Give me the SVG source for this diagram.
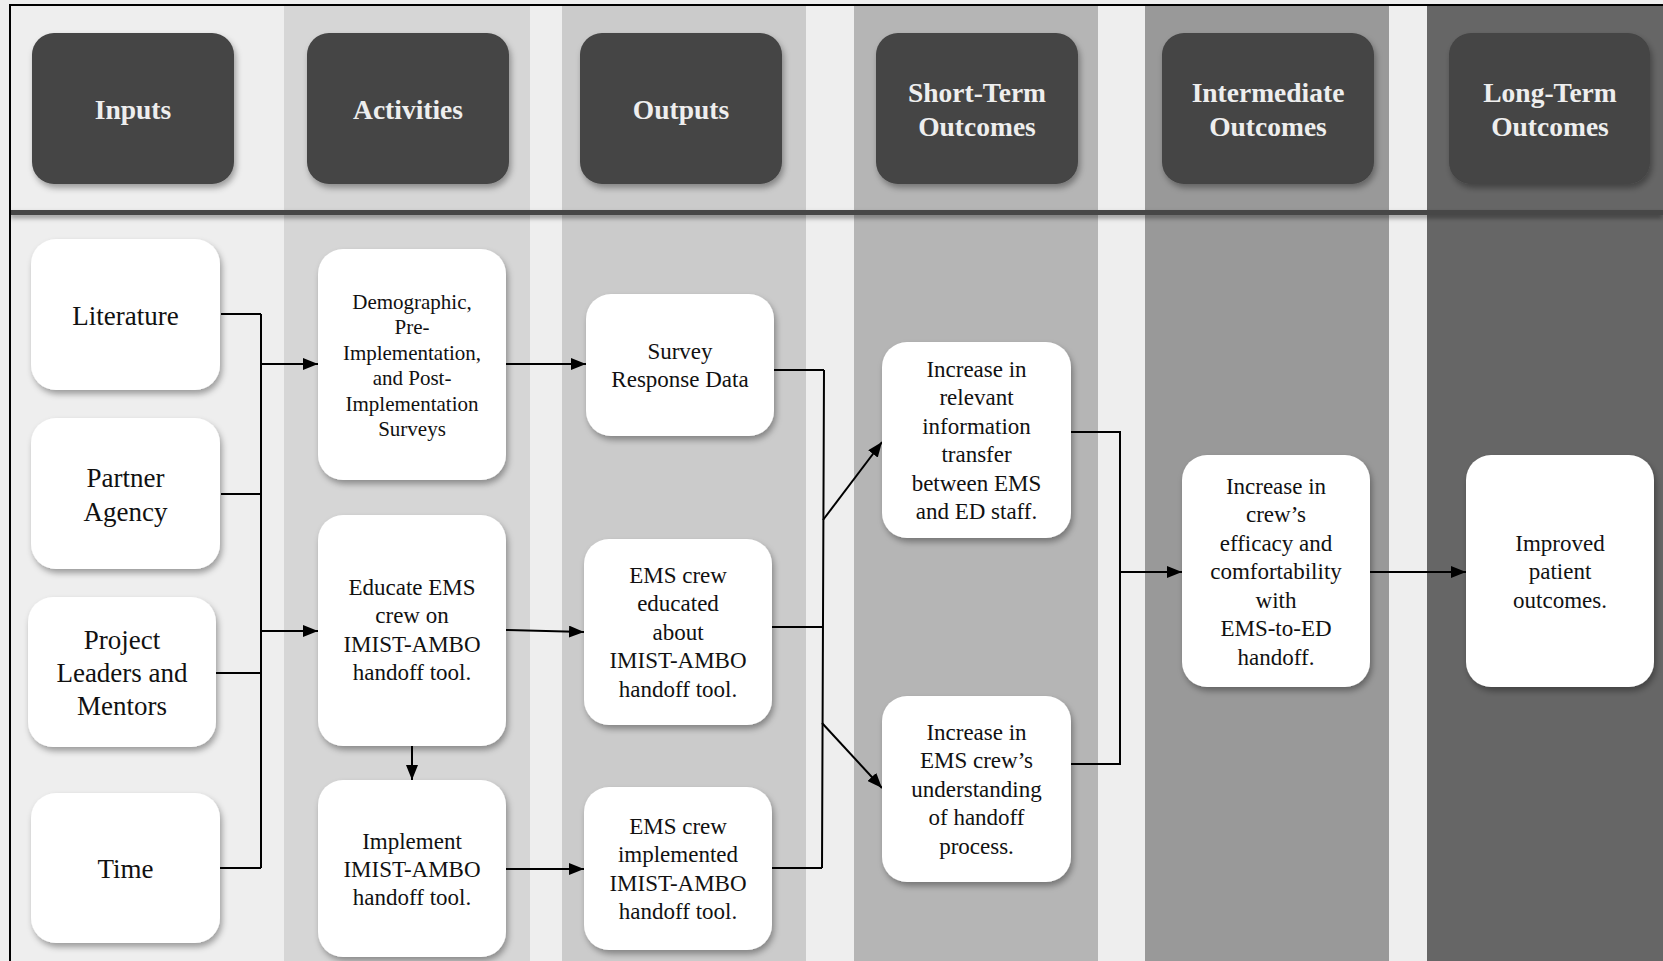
<svg xmlns="http://www.w3.org/2000/svg" width="1663" height="961" viewBox="0 0 1663 961">
<defs>
<filter id="sh" x="-20%" y="-20%" width="140%" height="140%"><feDropShadow dx="2" dy="4" stdDeviation="3" flood-color="#000" flood-opacity="0.35"/></filter>
<filter id="lsh" x="0" y="-200%" width="100%" height="500%"><feDropShadow dx="0" dy="3" stdDeviation="2.5" flood-color="#000" flood-opacity="0.4"/></filter>
<marker id="ah" markerUnits="userSpaceOnUse" markerWidth="15" markerHeight="12" refX="15" refY="6" orient="auto"><path d="M0,0 L15,6 L0,12 z" fill="#000"/></marker>
<style>
.hd{fill:#444444;filter:url(#sh)}
.ht{font-family:"Liberation Serif","Times New Roman",serif;font-weight:bold;font-size:27.5px;fill:#eeeeee;text-anchor:middle}
.nd{fill:#ffffff;filter:url(#sh)}
.t{font-family:"Liberation Serif","Times New Roman",serif;font-size:23px;fill:#111;text-anchor:middle}
.t27{font-size:27px}
.t21{font-size:21px}
.c{fill:none;stroke:#000;stroke-width:2}
.a{fill:none;stroke:#000;stroke-width:2;marker-end:url(#ah)}
</style>
</defs>
<g id="background">
<rect x="0" y="0" width="1663" height="961" fill="#eeeeee"/>
<rect x="284" y="6" width="246" height="955" fill="#d6d6d6"/>
<rect x="562" y="6" width="244" height="955" fill="#cbcbcb"/>
<rect x="854" y="6" width="244" height="955" fill="#b5b5b5"/>
<rect x="1145" y="6" width="244" height="955" fill="#999999"/>
<rect x="1427" y="6" width="236" height="955" fill="#666666"/>
<rect x="10" y="210" width="1653" height="5" fill="#474747" filter="url(#lsh)"/>
<path d="M10,961 L10,5 L1663,5" fill="none" stroke="#000" stroke-width="2"/>
</g>
<g id="h-inputs"><rect class="hd" x="32" y="33" width="202" height="151" rx="22"/><text class="ht" x="133" y="119">Inputs</text></g>
<g id="h-activities"><rect class="hd" x="307" y="33" width="202" height="151" rx="22"/><text class="ht" x="408" y="119">Activities</text></g>
<g id="h-outputs"><rect class="hd" x="580" y="33" width="202" height="151" rx="22"/><text class="ht" x="681" y="119">Outputs</text></g>
<g id="h-short"><rect class="hd" x="876" y="33" width="202" height="151" rx="22"/><text class="ht" x="977" y="101.5">Short-Term</text><text class="ht" x="977" y="135.5">Outcomes</text></g>
<g id="h-intermediate"><rect class="hd" x="1162" y="33" width="212" height="151" rx="22"/><text class="ht" x="1268" y="101.5">Intermediate</text><text class="ht" x="1268" y="135.5">Outcomes</text></g>
<g id="h-long"><rect class="hd" x="1449" y="33" width="201" height="151" rx="22"/><text class="ht" x="1550" y="101.5">Long-Term</text><text class="ht" x="1550" y="135.5">Outcomes</text></g>

<g id="connectors">
<path class="c" d="M221,314 H261 M221,494 H261 M216,673 H261 M220,868 H261 M261,314 V868"/>
<path class="a" d="M261,364 H318"/>
<path class="a" d="M261,631 H318"/>
<path class="a" d="M506,364 H586"/>
<path class="a" d="M506,630 L584,632"/>
<path class="a" d="M412,746 V780"/>
<path class="a" d="M506,869 H584"/>
<path class="c" d="M774,370 H824 M772,627 H823 M772,868 H822 M824,370 L822,868"/>
<path class="a" d="M823,520 L882,442"/>
<path class="a" d="M822,723 L882,788"/>
<path class="c" d="M1071,432 H1120 V764 H1071"/>
<path class="a" d="M1120,572 H1182"/>
<path class="a" d="M1370,572 H1466"/>
</g>

<g id="n-literature"><rect class="nd" x="31" y="239" width="189" height="151" rx="25"/><text class="t t27" x="125.5" y="325">Literature</text></g>
<g id="n-partner"><rect class="nd" x="31" y="418" width="189" height="151" rx="25"/><text class="t t27" x="125.5" y="487">Partner</text><text class="t t27" x="125.5" y="521">Agency</text></g>
<g id="n-project"><rect class="nd" x="28" y="597" width="188" height="150" rx="25"/><text class="t t27" x="122" y="649">Project</text><text class="t t27" x="122" y="682">Leaders and</text><text class="t t27" x="122" y="715">Mentors</text></g>
<g id="n-time"><rect class="nd" x="31" y="793" width="189" height="150" rx="25"/><text class="t t27" x="125.5" y="878">Time</text></g>

<g id="n-surveys"><rect class="nd" x="318" y="249" width="188" height="231" rx="25"/>
<text class="t t21" x="412" y="309">Demographic,</text><text class="t t21" x="412" y="334.4">Pre-</text><text class="t t21" x="412" y="359.8">Implementation,</text><text class="t t21" x="412" y="385.2">and Post-</text><text class="t t21" x="412" y="410.6">Implementation</text><text class="t t21" x="412" y="436">Surveys</text></g>
<g id="n-educate"><rect class="nd" x="318" y="515" width="188" height="231" rx="25"/>
<text class="t" x="412" y="594.5">Educate EMS</text><text class="t" x="412" y="623">crew on</text><text class="t" x="412" y="651.5">IMIST-AMBO</text><text class="t" x="412" y="680">handoff tool.</text></g>
<g id="n-implement"><rect class="nd" x="318" y="780" width="188" height="177" rx="25"/>
<text class="t" x="412" y="848.5">Implement</text><text class="t" x="412" y="876.5">IMIST-AMBO</text><text class="t" x="412" y="904.5">handoff tool.</text></g>

<g id="n-survey-data"><rect class="nd" x="586" y="294" width="188" height="142" rx="25"/>
<text class="t" x="680" y="358.5">Survey</text><text class="t" x="680" y="386.5">Response Data</text></g>
<g id="n-educated"><rect class="nd" x="584" y="539" width="188" height="186" rx="25"/>
<text class="t" x="678" y="582.5">EMS crew</text><text class="t" x="678" y="611">educated</text><text class="t" x="678" y="639.5">about</text><text class="t" x="678" y="668">IMIST-AMBO</text><text class="t" x="678" y="696.5">handoff tool.</text></g>
<g id="n-implemented"><rect class="nd" x="584" y="787" width="188" height="163" rx="25"/>
<text class="t" x="678" y="833.5">EMS crew</text><text class="t" x="678" y="862">implemented</text><text class="t" x="678" y="890.5">IMIST-AMBO</text><text class="t" x="678" y="919">handoff tool.</text></g>

<g id="n-st1"><rect class="nd" x="882" y="342" width="189" height="196" rx="25"/>
<text class="t" x="976.5" y="376.5">Increase in</text><text class="t" x="976.5" y="405">relevant</text><text class="t" x="976.5" y="433.5">information</text><text class="t" x="976.5" y="462">transfer</text><text class="t" x="976.5" y="490.5">between EMS</text><text class="t" x="976.5" y="519">and ED staff.</text></g>
<g id="n-st2"><rect class="nd" x="882" y="696" width="189" height="186" rx="25"/>
<text class="t" x="976.5" y="739.5">Increase in</text><text class="t" x="976.5" y="768">EMS crew’s</text><text class="t" x="976.5" y="796.5">understanding</text><text class="t" x="976.5" y="825">of handoff</text><text class="t" x="976.5" y="853.5">process.</text></g>

<g id="n-intermediate"><rect class="nd" x="1182" y="455" width="188" height="232" rx="25"/>
<text class="t" x="1276" y="493.5">Increase in</text><text class="t" x="1276" y="522">crew’s</text><text class="t" x="1276" y="550.5">efficacy and</text><text class="t" x="1276" y="579">comfortability</text><text class="t" x="1276" y="607.5">with</text><text class="t" x="1276" y="636">EMS-to-ED</text><text class="t" x="1276" y="664.5">handoff.</text></g>
<g id="n-improved"><rect class="nd" x="1466" y="455" width="188" height="232" rx="25"/>
<text class="t" x="1560" y="550.5">Improved</text><text class="t" x="1560" y="579">patient</text><text class="t" x="1560" y="607.5">outcomes.</text></g>
</svg>
